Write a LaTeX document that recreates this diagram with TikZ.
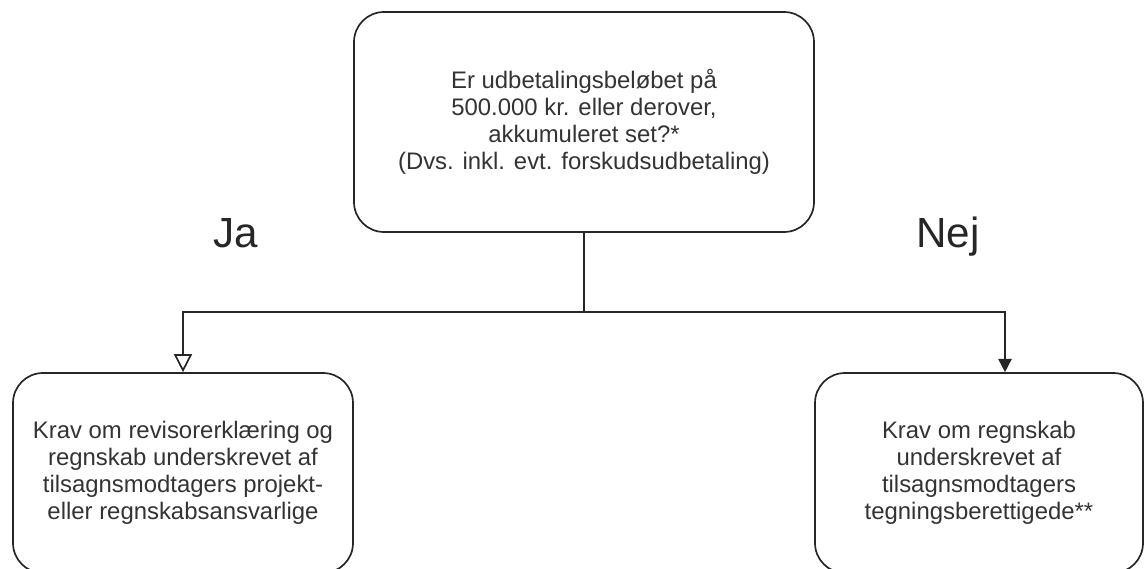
\documentclass[tikz,border=0pt]{standalone}
\usepackage{fontspec}
\setmainfont{Liberation Sans}
\usepackage{amsmath,tikz}
\usetikzlibrary{arrows.meta}

\begin{document}
\begin{tikzpicture}[scale=1,
  box/.style={draw=black!85,line width=1.2pt,rounded corners=0.75cm,
    align=center,inner sep=0pt,text=black!80,
    font=\fontsize{17}{19.2}\selectfont},
  answer/.style={text=black!85,font=\fontsize{30}{36}\selectfont,anchor=base},
  line/.style={draw=black!85,line width=1.2pt}]

\useasboundingbox (0,0) rectangle (28.65,-14.225);
\clip (0,0) rectangle (28.65,-14.225);

\node[box,minimum width=11.5cm,minimum height=5.5cm] (question) at (14.6,-3.05)
{Er udbetalingsbeløbet på\\500.000 kr. eller derover,\\akkumuleret set?*\\(Dvs. inkl. evt. forskudsudbetaling)};

\node[box,minimum width=8.5cm,minimum height=5cm] (yes) at (4.575,-11.825)
{Krav om revisorerklæring og\\regnskab underskrevet af\\tilsagnsmodtagers projekt-\\eller regnskabsansvarlige};

\node[box,minimum width=8.2cm,minimum height=5cm] (no) at (24.475,-11.825)
{Krav om regnskab\\underskrevet af\\tilsagnsmodtagers\\tegningsberettigede**};

\node[answer] (ja) at (5.9,-6.175) {Ja};
\node[answer] (nej) at (23.7,-6.175) {Nej};

\coordinate (split) at (14.6,-7.8);
\draw[line] (question.south) -- (split);
\draw[line,-{Triangle[open,width=0.45cm,length=0.45cm]}] (split) -| (yes.north);
\draw[line,-{Triangle[width=0.33cm,length=0.33cm]}] (split) -| ([xshift=0.65cm]no.north);
\end{tikzpicture}
\end{document}
